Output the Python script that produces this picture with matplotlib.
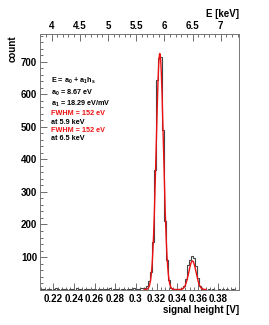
import numpy as np
import matplotlib
matplotlib.use("Agg")
import matplotlib.pyplot as plt
from matplotlib.ticker import MultipleLocator, FixedLocator

plt.rcParams['font.family'] = ['Liberation Sans', 'DejaVu Sans']
plt.rcParams['font.weight'] = 'bold'
plt.rcParams['mathtext.default'] = 'regular'

# ---- data ----
bin_start = 0.2055      # first bin edge [V]
bin_width = 0.002       # [V]
counts = [0, 2, 1, 0, 3, 1, 0, 2, 4, 1, 0, 2, 1, 3, 0, 1, 2, 0, 4, 1,
          2, 0, 1, 3, 2, 0, 1, 2, 0, 3, 1, 0, 2, 1, 4, 0, 2, 1, 3, 0,
          2, 1, 0, 3, 2, 1, 4, 2, 3, 5, 4, 6,
          10, 25, 55, 145, 368, 644, 712, 715, 490, 210, 92, 30, 6,
          2, 1, 3, 2, 5,
          12, 32, 75, 90, 103, 98, 72, 35, 10, 3,
          1, 0, 2, 0, 1, 0, 0, 1, 0, 2, 0, 1, 0, 0, 1, 0, 0]

# Gaussian fit parameters (two peaks)
fit_amp = [725.0, 88.0]
fit_mean = [0.3232, 0.3548]
fit_sigma = [0.00353, 0.00355]
fit_range = (0.308, 0.368)

# energy calibration E = a0 + a1*h
a0_keV = 0.00867
a1_keV_per_V = 18.29

top_ticks = [4, 4.5, 5, 5.5, 6, 6.5, 7]
top_tick_labels = ['4', '4.5', '5', '5.5', '6', '6.5', '7']
bottom_ticks = [0.22, 0.24, 0.26, 0.28, 0.30, 0.32, 0.34, 0.36, 0.38]
bottom_tick_labels = ['0.22', '0.24', '0.26', '0.28', '0.3', '0.32', '0.34', '0.36', '0.38']
y_ticks = [100, 200, 300, 400, 500, 600, 700]

W, H = 269, 325
fig = plt.figure(figsize=(W / 100, H / 100), dpi=100)
ax = fig.add_axes([40 / W, 1 - 289.6 / H, 199 / W, 255.6 / H])

edges = bin_start + bin_width * np.arange(len(counts) + 1)
ax.stairs(counts, edges, color='#444444', lw=0.8)

xf = np.linspace(fit_range[0], fit_range[1], 600)
yf = np.zeros_like(xf)
for A, m, s in zip(fit_amp, fit_mean, fit_sigma):
    yf += A * np.exp(-0.5 * ((xf - m) / s) ** 2)
ax.plot(xf, yf, color='#ee1111', lw=1.0)

ax.set_xlim(0.207, 0.4)
ax.set_ylim(0, 785)

ax.xaxis.set_major_locator(FixedLocator(bottom_ticks))
ax.set_xticklabels(bottom_tick_labels)
ax.xaxis.set_minor_locator(MultipleLocator(0.004))
ax.yaxis.set_major_locator(FixedLocator(y_ticks))
ax.set_yticklabels([str(v) for v in y_ticks])
ax.yaxis.set_minor_locator(MultipleLocator(20))

ax.tick_params(axis='both', which='both', direction='in', colors='#555555',
               labelcolor='black', labelsize=7, width=0.6)
ax.tick_params(axis='x', which='major', length=5, pad=3.5)
ax.tick_params(axis='x', which='minor', length=2.5)
ax.tick_params(axis='y', which='major', length=5, pad=2)
ax.tick_params(axis='y', which='minor', length=2.5)
for sp in ax.spines.values():
    sp.set_color('#777777')
    sp.set_linewidth(0.7)

def h2e(h):
    return a0_keV + a1_keV_per_V * np.asarray(h)

def e2h(e):
    return (np.asarray(e) - a0_keV) / a1_keV_per_V

top = ax.secondary_xaxis('top', functions=(h2e, e2h))
top.xaxis.set_major_locator(FixedLocator(top_ticks))
top.set_xticklabels(top_tick_labels)
top.xaxis.set_minor_locator(MultipleLocator(0.1))
top.tick_params(axis='x', which='both', direction='in', colors='#555555',
                labelcolor='black', labelsize=7, width=0.6)
top.tick_params(axis='x', which='major', length=5, pad=2.5)
top.tick_params(axis='x', which='minor', length=2.5)
top.spines['top'].set_color('#777777')
top.spines['top'].set_linewidth(0.7)

fig.text(13 / W, 1 - 35 / H, 'count', rotation=90, ha='center', va='top',
         fontsize=7, fontweight='bold')
fig.text(239 / W, 1 - 310 / H, 'signal height [V]', ha='right', va='center',
         fontsize=7, fontweight='bold')
fig.text(239 / W, 1 - 14 / H, 'E [keV]', ha='right', va='center',
         fontsize=7, fontweight='bold')

lines = [
    ('E = a$_0$ + a$_1$h$_s$', 'black', 81),
    ('a$_0$ = 8.67 eV', 'black', 93),
    ('a$_1$ = 18.29 eV/mV', 'black', 104),
    ('FWHM = 152 eV', '#ee1111', 113.5),
    ('at 5.9 keV', 'black', 122.3),
    ('FWHM = 152 eV', '#ee1111', 130.5),
    ('at 6.5 keV', 'black', 138.8),
]
for txt, col, yp in lines:
    fig.text(51 / W, 1 - yp / H, txt, ha='left', va='center', fontsize=5.2,
             color=col, fontweight='bold')

fig.savefig('out.png', dpi=100)
